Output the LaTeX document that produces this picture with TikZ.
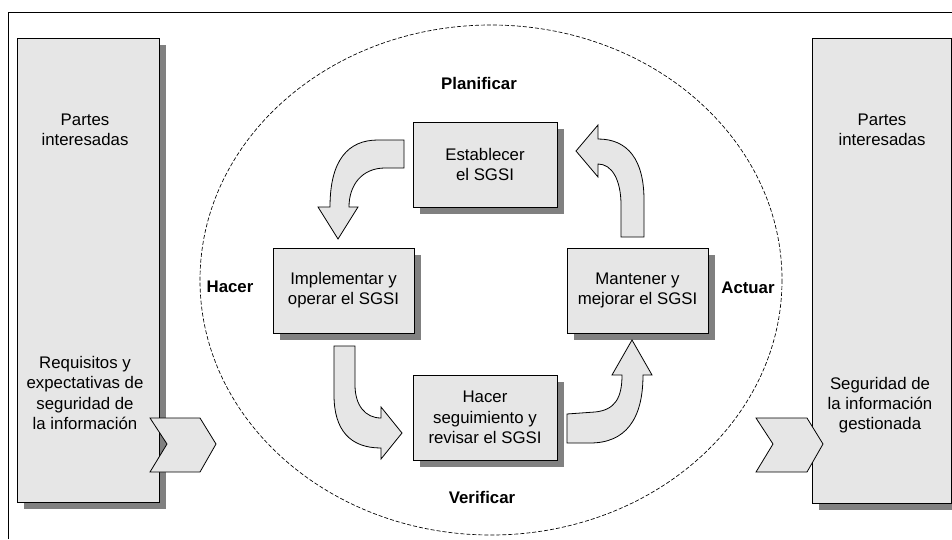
\documentclass[tikz,border=0pt]{standalone}
\usepackage{fontspec}
\setmainfont{Liberation Sans}
\usetikzlibrary{calc}
\usetikzlibrary{shadows}

\definecolor{gris}{RGB}{230,230,230}
\definecolor{sombra}{RGB}{128,128,128}

\tikzset{
  texto/.style={align=center, inner sep=0pt, font=\fontsize{12.6}{15.2}\selectfont},
  titulo/.style={inner sep=0pt, font=\fontsize{12.6}{15.2}\selectfont\bfseries},
  caja/.style={texto, draw, fill=gris, minimum width=108pt, minimum height=63.75pt,
    drop shadow={shadow xshift=5pt, shadow yshift=-5pt, fill=sombra, opacity=1}},
  flecha/.style={draw, fill=gris},
}

\begin{document}
\begin{tikzpicture}[x=0.75pt, y=-0.75pt, line width=0.6pt]
            \useasboundingbox (0,0) rectangle (952,539);
            \clip (0,0) rectangle (952,539);

            % marco
            \draw (8,539) -- (8,12) -- (952,12);

            % partes interesadas, izquierda
            \coordinate (I1) at (17,38);
            \coordinate (I2) at (159,502);
            \fill[sombra] ($(I1)+(7,7)$) rectangle ($(I2)+(7,7)$);
            \draw[fill=gris] (I1) rectangle (I2);
            \node[texto] (parIzq) at (85,130) {Partes\\interesadas};
            \node[texto] (req) at (85,393) {Requisitos y\\expectativas de\\seguridad de\\la información};

            % partes interesadas, derecha
            \coordinate (D1) at (812,38);
            \coordinate (D2) at (951,503);
            \fill[sombra] ($(D1)+(7,7)$) rectangle ($(D2)+(7,7)$);
            \draw[fill=gris] (D1) rectangle (D2);
            \node[texto] (parDer) at (882,130) {Partes\\interesadas};
            \node[texto] (segInf) at (880,405) {Seguridad de\\la información\\gestionada};

            % chevrones
            \draw[flecha] (150,418) -- (200,418) -- (216,444) -- (200,472) -- (150,472) -- (167,444) -- cycle;
            \draw[flecha] (756,418) -- (807,418) -- (823,444) -- (807,472) -- (756,472) -- (773,444) -- cycle;

            % ciclo
            \draw[line width=0.5pt, dash pattern=on 3pt off 1.5pt] (491,280) ellipse [x radius=291, y radius=255];

            \node[titulo] (plan) at (479,83) {Planificar};
            \node[titulo] (ver) at (482,497) {Verificar};
            \node[titulo] (hac) at (230,287) {Hacer};
            \node[titulo] (act) at (748,288) {Actuar};

            \node[caja] (est) at (485,164.5) {Establecer\\el SGSI};
            \node[caja, minimum width=105.75pt] (imp) at (343.5,290.5) {Implementar y\\operar el SGSI};
            \node[caja, minimum width=105.75pt] (man) at (637.5,290.5) {Mantener y\\mejorar el SGSI};
            \node[caja] (seg) at (485,417.5) {Hacer\\seguimiento y\\revisar el SGSI};

            % flechas curvas
            \draw[flecha] (404,140) -- (378,140) .. controls (348,140) and (330,160) .. (330,207)
              -- (318,207) -- (338,239) -- (358,207) -- (349,207)
              .. controls (349,185) and (362,168) .. (385,168) -- (404,168) -- cycle;
            \draw[flecha] (621,237) -- (644,237) -- (644,200) .. controls (644,160) and (628,139) .. (598,139)
              -- (598,125) -- (576,151) -- (598,177) -- (598,164)
              .. controls (612,164) and (621,180) .. (621,205) -- cycle;
            \draw[flecha] (334,346) -- (355,346) -- (355,385) .. controls (355,405) and (365,418) .. (381,418)
              -- (381,407) -- (402,433) -- (381,459) -- (381,448)
              .. controls (350,448) and (334,430) .. (334,395) -- cycle;
            \draw[flecha] (567,414) -- (595,412) .. controls (615,410) and (622,398) .. (622,375)
              -- (612,375) -- (632,340) -- (652,375) -- (643,375)
              .. controls (643,420) and (625,443) .. (590,443) -- (567,443) -- cycle;
        \end{tikzpicture}
\end{document}
